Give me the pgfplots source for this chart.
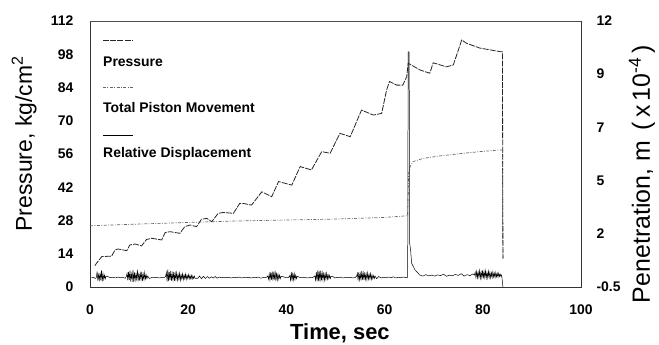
\documentclass[border=0pt]{standalone}
\usepackage{fontspec}
\setmainfont{Liberation Sans}
\usepackage{pgfplots}
\pgfplotsset{compat=1.18}
\pgfplotstableread{
x y
1.0 9.0
1.4 10.2
2.4 12.8
4.4 13.0
5.1 15.6
5.7 16.0
7.5 15.3
8.1 17.7
9.2 18.1
10.5 17.3
11.5 20.0
12.6 20.5
14.6 19.8
15.3 22.9
16.3 23.3
18.3 22.6
19.3 25.4
20.4 26.1
21.7 25.4
22.7 28.5
23.8 28.9
24.8 27.5
26.1 31.0
27.2 31.4
29.2 31.0
30.5 35.2
31.2 35.2
32.9 34.5
35.0 40.1
37.0 38.0
38.4 44.4
41.1 42.9
42.8 50.7
45.1 49.3
47.2 57.0
48.9 56.3
50.9 64.7
53.0 63.3
55.3 74.5
57.7 72.4
59.4 73.1
60.4 82.9
61.0 86.5
62.5 85.0
63.7 85.0
64.5 88.5
64.8 94.2
67.2 91.4
69.2 90.0
69.9 94.4
72.6 92.7
74.0 93.5
75.7 104.0
76.7 102.6
79.4 100.6
83.5 99.1
84.0 99.0
84.1 12.0
}\pressure
\pgfplotstableread{
x y
0.0 25.8
10.0 26.5
20.0 27.2
30.0 27.8
40.0 28.2
50.0 28.6
60.0 29.3
64.7 30.0
64.9 48.0
65.2 50.7
65.8 52.8
67.9 54.2
71.3 55.2
76.0 56.3
79.4 57.0
83.5 57.7
84.0 57.7
84.1 12.0
}\piston
\pgfplotstableread{
x y
0.3 3.8
0.7 4.1
1.1 3.6
1.30 4.0
1.45 6.6
1.60 2.6
1.75 5.2
1.90 3.0
2.05 6.0
2.20 2.8
2.35 7.0
2.50 2.4
2.65 5.6
2.80 3.2
2.95 5.0
3.10 3.4
3.25 4.6
3.7 4.3
4.2 3.9
4.7 4.1
5.2 3.8
5.7 4.2
6.2 3.9
6.7 4.0
7.2 3.7
7.40 4.4
7.55 5.8
7.70 2.8
7.85 6.4
8.00 3.0
8.15 6.9
8.30 2.3
8.45 5.5
8.60 3.1
8.75 7.1
8.90 2.2
9.05 6.2
9.20 2.9
9.35 5.4
9.50 3.3
9.65 7.3
9.80 2.4
9.95 6.0
10.10 2.7
10.25 5.7
10.40 3.2
10.55 6.5
10.70 2.6
10.85 5.3
11.00 3.1
11.15 6.1
11.30 3.4
11.45 5.0
11.60 3.5
11.75 4.6
12.1 3.6
12.6 4.0
13.1 3.9
13.6 4.1
14.1 3.8
14.6 4.0
15.1 3.9
15.40 4.5
15.55 6.1
15.70 2.3
15.85 7.4
16.00 2.5
16.15 6.3
16.30 2.9
16.45 6.8
16.60 2.7
16.75 5.6
16.90 3.0
17.05 6.4
17.20 2.6
17.35 5.8
17.50 3.2
17.65 6.0
17.80 2.9
17.95 5.3
18.10 3.3
18.25 5.9
18.40 2.8
18.55 5.1
18.70 3.4
18.85 5.6
19.00 3.1
19.15 5.0
19.30 3.5
19.45 5.4
19.60 3.2
19.75 4.9
19.90 3.6
20.05 5.2
20.20 3.4
20.35 4.8
20.50 3.5
20.65 4.9
20.80 3.3
20.95 4.7
21.10 3.6
21.25 4.6
21.40 3.7
21.9 3.6
22.3 4.6
22.7 3.5
23.1 4.5
23.5 3.6
23.9 4.4
24.3 3.7
24.7 4.3
25.1 3.8
25.5 4.4
25.9 3.7
26.3 4.2
26.8 3.9
27.3 4.1
27.8 3.9
28.3 4.0
28.8 3.8
29.3 4.1
29.8 3.9
30.3 4.2
30.8 3.8
31.3 4.0
31.8 3.9
32.3 4.1
32.8 3.8
33.3 4.0
33.8 3.9
34.3 4.2
34.8 3.7
35.3 4.0
35.8 3.9
36.20 4.6
36.35 3.3
36.50 5.5
36.65 2.9
36.80 6.1
36.95 3.0
37.10 6.6
37.25 2.7
37.40 5.7
37.55 3.1
37.70 6.9
37.85 2.5
38.00 6.0
38.15 3.0
38.30 5.4
38.45 3.3
38.60 5.0
38.75 3.5
38.90 4.5
39.4 4.3
39.9 3.9
40.4 4.0
40.70 4.8
40.85 2.8
41.00 6.4
41.15 2.6
41.30 6.0
41.45 3.0
41.60 5.6
41.75 3.2
41.90 5.0
42.05 3.5
42.20 4.5
42.8 4.0
43.3 3.9
43.8 4.0
44.3 3.8
44.8 4.0
45.3 3.9
45.80 4.7
45.95 2.9
46.10 6.3
46.25 2.4
46.40 7.1
46.55 2.6
46.70 6.6
46.85 2.3
47.00 6.9
47.15 2.8
47.30 5.9
47.45 3.0
47.60 6.2
47.75 2.9
47.90 5.5
48.05 3.2
48.20 5.8
48.35 3.3
48.50 5.1
48.65 3.5
48.80 4.9
48.95 3.6
49.10 4.5
49.5 4.4
49.9 3.8
50.3 4.1
50.7 3.9
51.1 4.2
51.5 3.8
52.0 4.0
52.5 3.9
53.0 4.1
53.5 3.8
54.0 4.0
54.30 4.5
54.45 5.8
54.60 2.7
54.75 6.3
54.90 3.0
55.05 5.6
55.20 2.8
55.35 6.7
55.50 3.1
55.65 5.9
55.80 2.9
55.95 6.2
56.10 3.2
56.25 5.5
56.40 3.0
56.55 6.0
56.70 3.3
56.85 5.3
57.00 3.4
57.15 5.7
57.30 3.2
57.45 5.0
57.60 3.5
57.75 4.8
57.90 3.6
58.05 4.6
58.4 3.5
58.8 4.4
59.3 3.8
59.8 4.1
60.3 3.9
60.8 4.2
61.3 3.9
61.8 4.3
62.3 3.8
62.8 4.1
63.3 3.9
63.8 4.2
64.3 4.0
64.7 4.1
64.8 99.0
65.0 99.0
65.1 18.5
65.3 15.6
65.5 10.0
66.2 7.2
67.2 5.0
67.8 4.6
68.4 5.2
69.0 4.7
69.6 5.0
70.2 4.6
70.8 5.1
71.4 4.8
72.0 5.4
72.6 4.5
73.2 5.0
73.8 4.7
74.4 5.3
75.0 4.9
75.6 5.6
76.2 4.6
76.8 5.2
77.4 4.8
78.0 5.5
78.30 5.0
78.45 6.2
78.60 4.0
78.75 6.6
78.90 3.8
79.05 6.3
79.20 4.1
79.35 6.9
79.50 3.7
79.65 6.4
79.80 3.9
79.95 7.0
80.10 3.6
80.25 6.5
80.40 4.0
80.55 6.8
80.70 3.8
80.85 6.1
81.00 3.9
81.15 6.6
81.30 4.1
81.45 6.2
81.60 3.8
81.75 6.0
81.90 4.0
82.05 6.4
82.20 4.2
82.35 5.8
82.50 4.0
82.65 6.1
82.80 4.3
82.95 5.7
83.10 4.1
83.25 5.9
83.40 4.4
83.55 5.4
83.70 4.5
83.85 5.0
84.1 0.0
}\reldisp
\tikzset{
  pstyle/.style={black!85, line width=0.8pt, dash pattern=on 6pt off 1.2pt},
  tstyle/.style={black!60, line width=0.7pt, dash pattern=on 3pt off 1.5pt on 0.8pt off 1.5pt},
  rstyle/.style={black, line width=0.5pt},
}
\begin{document}
\begin{tikzpicture}
\path[use as bounding box] (-90bp,-58bp) rectangle (569bp,287bp);
\begin{axis}[
  scale only axis, width=491bp, height=266bp,
  xmin=0, xmax=100, ymin=0, ymax=112,
  xtick={0,20,40,60,80,100},
  ytick={0,14,28,42,56,70,84,98,112},
  major tick length=0pt,
  axis line style={black!80, line width=0.7pt},
  /pgf/number format/assume math mode=true,
  ticklabel style={font=\bfseries\fontsize{14}{14}\selectfont},
  xticklabel style={anchor=center, yshift=-23bp},
  yticklabel style={anchor=east, xshift=-13bp},
  xlabel={\bfseries Time, sec},
  xlabel style={font=\fontsize{22}{22}\selectfont, at={(axis description cs:0.509,-0.173)}, anchor=center},
  ylabel={Pressure, kg/cm\textsuperscript{2}},
  ylabel style={font=\fontsize{23}{23}\selectfont, at={(axis description cs:-0.134,0.538)}, anchor=center},
  clip=false,
]
\addplot[tstyle] table[x=x,y=y] {\piston};
\addplot[rstyle] table[x=x,y=y] {\reldisp};
\addplot[pstyle] table[x=x,y=y] {\pressure};
\draw[black!70, line width=0.7pt] (axis description cs:0,1) -- (axis description cs:1,1);
% legend
\draw[pstyle] (axis description cs:0.0265,0.927) -- (axis description cs:0.0876,0.927);
\node[anchor=west, inner sep=0pt, font=\bfseries\fontsize{14}{14}\selectfont] at (axis description cs:0.0265,0.846) {Pressure};
\draw[tstyle] (axis description cs:0.0265,0.752) -- (axis description cs:0.0876,0.752);
\node[anchor=west, inner sep=0pt, font=\bfseries\fontsize{14}{14}\selectfont] at (axis description cs:0.0265,0.673) {Total Piston Movement};
\draw[rstyle] (axis description cs:0.0265,0.571) -- (axis description cs:0.0876,0.571);
\node[anchor=west, inner sep=0pt, font=\bfseries\fontsize{14}{14}\selectfont] at (axis description cs:0.0265,0.500) {Relative Displacement};
\end{axis}
\begin{axis}[
  scale only axis, width=491bp, height=266bp,
  xmin=0, xmax=100, ymin=-0.5, ymax=12,
  axis x line=none,
  axis y line*=right,
  axis line style={black!80, line width=0.7pt},
  ytick={-0.5,2,4.5,7,9.5,12},
  yticklabels={-0.5,2,5,7,9,12},
  major tick length=0pt,
  ticklabel style={font=\bfseries\fontsize{14}{14}\selectfont},
  yticklabel style={anchor=west, xshift=12bp},
  ylabel={Penetration, m \,(\,x\,10\textsuperscript{-4}\,)},
  ylabel style={font=\fontsize{25}{25}\selectfont, at={(axis description cs:1.124,0.425)}, anchor=center, rotate=0},
]
\end{axis}
\end{tikzpicture}
\end{document}
